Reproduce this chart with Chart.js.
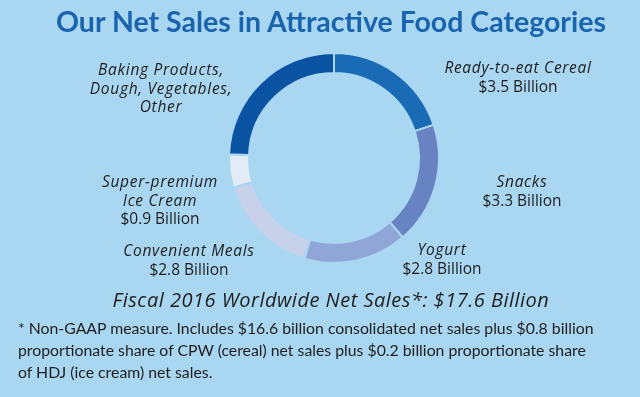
<!DOCTYPE html>
<html>
<head>
<meta charset="utf-8">
<script src="https://cdn.jsdelivr.net/npm/chart.js@4"></script>
<style>
body { margin: 0; background: #a9d7f1; font-family: Lato, sans-serif; color: #1e1e1e; }
#page { position: relative; width: 640px; height: 397px; overflow: hidden; }
#myChart { position: absolute; left: 0; top: 0; }
.title { position: absolute; left: 0; top: 4px; width: 662px; text-align: center; font-weight: bold; font-size: 28.5px; color: #1a64ae; }
.lbl { position: absolute; transform: translateX(-50%); text-align: center; white-space: nowrap; font-family: "Open Sans", sans-serif; font-size: 15.5px; line-height: 18.5px; }
.lbl .name { font-style: italic; letter-spacing: 0.7px; }
.total { position: absolute; left: 0; width: 662px; top: 286px; text-align: center; font-family: "Open Sans", sans-serif; font-style: italic; font-size: 20px; letter-spacing: 0.5px; }
.note { position: absolute; left: 18px; top: 317px; width: 622px; font-size: 15.8px; line-height: 22px; white-space: nowrap; }
</style>
</head>
<body>
<div id="page">
	<canvas id="myChart" width="640" height="397"></canvas>
	<div class="title">Our Net Sales in Attractive Food Categories</div>
	<div class="total">Fiscal 2016 Worldwide Net Sales*: $17.6 Billion</div>
	<div class="note">* Non-GAAP measure. Includes $16.6 billion consolidated net sales plus $0.8 billion<br>proportionate share of CPW (cereal) net sales plus $0.2 billion proportionate share<br>of HDJ (ice cream) net sales.</div>
</div>
<script>
const categories = ["Ready-to-eat Cereal", "Snacks", "Yogurt", "Convenient Meals", "Super-premium Ice Cream", "Baking Products, Dough, Vegetables, Other"];
const nameLines = [["Ready-to-eat Cereal"], ["Snacks"], ["Yogurt"], ["Convenient Meals"], ["Super-premium", "Ice Cream"], ["Baking Products,", "Dough, Vegetables,", "Other"]];
const salesBillions = [3.5, 3.3, 2.8, 2.8, 0.9, 4.3];
const showValue = [true, true, true, true, true, false];

const colors = ["#1a6bb6", "#6883c2", "#8fa6d6", "#c7d1ea", "#e3ebf7", "#0a52a2"];
// label anchors: center x, top of first line
const labelPos = [[518, 58], [522, 172], [442, 240], [189, 241], [160, 172], [161, 60]];

const page = document.getElementById("page");
categories.forEach((cat, i) => {
	const div = document.createElement("div");
	div.className = "lbl";
	div.style.left = labelPos[i][0] + "px";
	div.style.top = labelPos[i][1] + "px";
	let html = nameLines[i].map((l) => `<div class="name">${l}</div>`).join("");
	if (showValue[i]) {
		html += `<div>$${salesBillions[i].toFixed(1)} Billion</div>`;
	}
	div.innerHTML = html;
	page.appendChild(div);
});

new Chart(document.getElementById("myChart"), {
	type: "doughnut",
	data: {
		labels: categories,
		datasets: [{
			data: salesBillions,
			backgroundColor: colors,
			borderColor: "#a9d7f1",
			borderWidth: 2,
		}],
	},
	options: {
		responsive: false,
		animation: false,
		cutout: "81%",
		layout: {
			padding: { left: 228, right: 200, top: 52, bottom: 133 },
		},
		plugins: {
			legend: { display: false },
			tooltip: { enabled: false },
		},
	},
});
</script>
</body>
</html>
